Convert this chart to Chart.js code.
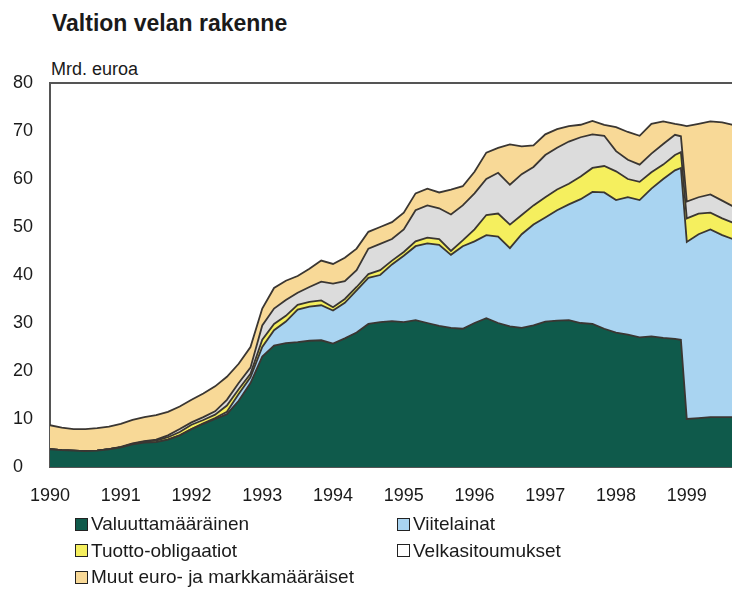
<!DOCTYPE html>
<html lang="fi">
<head>
<meta charset="utf-8">
<title>Valtion velan rakenne</title>
<script src="https://cdn.jsdelivr.net/npm/chart.js@4.4.1/dist/chart.umd.min.js"></script>
<style>
  html, body { margin: 0; padding: 0; background: #fff; overflow: hidden; }
  body { width: 732px; height: 589px; position: relative; font-family: 'Liberation Sans', Arial, Helvetica, sans-serif; color: #1a1a1a; }
  #chart { position: absolute; left: 0; top: 0; }
  .title { position: absolute; left: 52px; top: 12px; font-size: 23px; font-weight: bold; line-height: 23px; white-space: nowrap; }
  .unit { position: absolute; left: 51px; top: 60px; font-size: 18px; line-height: 18px; white-space: nowrap; }
  .legend { position: absolute; left: 75px; top: 511px; display: grid; grid-template-columns: 322px auto; font-size: 19px; }
  .legend-item { display: flex; align-items: center; height: 26.5px; white-space: nowrap; }
  .legend-box { width: 11px; height: 11px; border: 1px solid #222; margin-right: 3px; }
</style>
</head>
<body>
<div class="title">Valtion velan rakenne</div>
<div class="unit">Mrd. euroa</div>
<canvas id="chart" width="800" height="589"></canvas>
<div class="legend" id="legend"></div>
<script>
// ── Data (mrd. euroa) ────────────────────────────────────────────
const months = [
  '1990-01','1990-03','1990-05','1990-07','1990-09','1990-11',
  '1991-01','1991-03','1991-05','1991-07','1991-09','1991-11',
  '1992-01','1992-03','1992-05','1992-07','1992-09','1992-11',
  '1993-01','1993-03','1993-05','1993-07','1993-09','1993-11',
  '1994-01','1994-03','1994-05','1994-07','1994-09','1994-11',
  '1995-01','1995-03','1995-05','1995-07','1995-09','1995-11',
  '1996-01','1996-03','1996-05','1996-07','1996-09','1996-11',
  '1997-01','1997-03','1997-05','1997-07','1997-09','1997-11',
  '1998-01','1998-03','1998-05','1998-07','1998-09','1998-11','1998-12',
  '1999-01','1999-03','1999-05','1999-07','1999-09'
];

const valuutta = [
  3.7, 3.5, 3.4, 3.3, 3.4, 3.7,
  4.1, 4.7, 5.1, 5.2, 5.7, 6.6,
  7.9, 9.0, 10.0, 11.0, 13.8, 17.5,
  23.0, 25.3, 25.8, 26.0, 26.3, 26.4,
  25.7, 26.8, 28.0, 29.8, 30.2, 30.4,
  30.2, 30.6, 30.0, 29.4, 29.0, 28.8,
  30.0, 31.0, 30.0, 29.3, 29.0, 29.5,
  30.3, 30.5, 30.6, 30.0, 29.8, 28.8,
  28.0, 27.6, 27.0, 27.2, 26.9, 26.7, 26.5,
  10.0, 10.2, 10.4, 10.4, 10.4
];
const viite = [
  0, 0, 0, 0, 0, 0,
  0, 0, 0, 0, 0, 0,
  0, 0.1, 0.2, 0.5, 1.4, 1.2,
  2.0, 3.2, 4.5, 6.8, 7.1, 7.3,
  6.9, 7.4, 8.8, 9.6, 9.8, 11.8,
  13.8, 15.4, 16.6, 16.9, 15.2, 17.2,
  17.0, 17.3, 18.0, 16.3, 19.5, 21.0,
  21.7, 23.0, 24.1, 25.8, 27.5, 28.4,
  27.6, 28.6, 28.6, 30.8, 33.1, 35.1, 35.8,
  36.9, 38.3, 39.1, 37.9, 37.0
];
const tuotto = [
  0, 0, 0, 0, 0, 0,
  0, 0.1, 0.2, 0.3, 0.5, 0.7,
  0.9, 0.7, 0.7, 1.3, 1.0, 0.7,
  1.5, 1.3, 1.2, 1.0, 1.0, 1.0,
  0.7, 0.8, 0.7, 0.8, 1.0, 0.8,
  0.8, 1.0, 1.2, 1.2, 0.8, 1.2,
  2.5, 4.2, 4.8, 4.9, 4.0, 4.0,
  4.2, 4.3, 4.3, 4.7, 5.0, 5.5,
  6.0, 3.8, 3.8, 3.4, 3.0, 3.2, 3.3,
  4.9, 4.3, 3.5, 3.5, 3.4
];
const velka = [
  0, 0, 0, 0, 0, 0,
  0.1, 0.1, 0.1, 0.2, 0.4, 0.6,
  0.5, 0.6, 0.7, 1.2, 1.3, 1.3,
  3.0, 3.2, 3.3, 2.5, 3.1, 3.9,
  4.9, 3.7, 3.5, 5.3, 5.5, 4.5,
  4.7, 6.5, 6.7, 6.4, 7.6, 7.3,
  7.5, 7.5, 8.5, 8.3, 8.5, 8.0,
  8.8, 8.7, 8.8, 8.2, 7.0, 6.3,
  4.2, 4.0, 3.6, 3.9, 4.3, 4.2, 3.3,
  3.5, 3.4, 3.8, 3.7, 3.4
];
const muut = [
  5.0, 4.7, 4.5, 4.6, 4.7, 4.7,
  4.8, 4.9, 5.0, 5.1, 4.9, 4.7,
  4.7, 4.9, 5.2, 4.8, 4.0, 4.3,
  3.5, 4.3, 4.0, 3.5, 3.8, 4.4,
  4.1, 4.9, 4.5, 3.5, 3.5, 3.5,
  3.5, 3.5, 3.5, 3.3, 5.2, 4.0,
  4.5, 5.5, 5.2, 8.4, 5.8, 4.5,
  4.3, 3.9, 3.2, 2.6, 2.8, 2.3,
  5.0, 5.8, 6.0, 6.2, 4.7, 2.3, 2.4,
  15.7, 15.3, 15.2, 16.3, 17.0
];

const names = ['Valuuttamääräinen', 'Viitelainat', 'Tuotto-obligaatiot', 'Velkasitoumukset', 'Muut euro- ja markkamääräiset'];
const fills = ['#0f5a4b', '#a9d4f1', '#f5ef5e', '#dcdcdc', '#f8d997'];
const legendFills = ['#0f5a4b', '#a9d4f1', '#f5ef5e', '#ffffff', '#f8d997'];
const years = [1990, 1991, 1992, 1993, 1994, 1995, 1996, 1997, 1998, 1999];
const yTicks = [0, 10, 20, 30, 40, 50, 60, 70, 80];

// ── Chart ─────────────────────────────────────────────────────────
const FONT = "'Liberation Sans', Arial, Helvetica, sans-serif";
const AXIS = '#555555';
const toYear = s => { const [y, m] = s.split('-').map(Number); return y + (m - 1) / 12; };
const points = vals => months.map((m, i) => ({ x: toYear(m), y: vals[i] }));

const topBorder = {
  id: 'topBorder',
  afterDatasetsDraw(chart) {
    const { ctx, chartArea: a } = chart;
    ctx.save();
    ctx.strokeStyle = AXIS;
    ctx.lineWidth = 2;
    ctx.beginPath();
    ctx.moveTo(a.left - 1, a.top);
    ctx.lineTo(a.right, a.top);
    ctx.stroke();
    ctx.restore();
  }
};

const chart = new Chart(document.getElementById('chart'), {
  type: 'line',
  data: {
    datasets: [valuutta, viite, tuotto, velka, muut].map((vals, i) => ({
      label: names[i],
      data: points(vals),
      backgroundColor: fills[i],
      borderColor: '#3a3632',
      borderWidth: 1.8,
      fill: i === 0 ? 'origin' : '-1',
      pointRadius: 0,
      tension: 0
    }))
  },
  options: {
    responsive: false,
    animation: false,
    layout: { padding: { left: 13, top: 83, right: 0, bottom: 82 } },
    plugins: { legend: { display: false }, tooltip: { enabled: false } },
    scales: {
      x: {
        type: 'linear', min: 1990, max: 2000.6,
        grid: { display: false, drawTicks: false },
        border: { display: true, color: AXIS, width: 2 },
        afterBuildTicks: s => { s.ticks = years.map(v => ({ value: v })); },
        afterFit: s => { s.height = 40; },
        ticks: { autoSkip: false, maxRotation: 0, padding: 18, color: '#1a1a1a', font: { family: FONT, size: 18 }, callback: v => String(v) }
      },
      y: {
        stacked: true, min: 0, max: 80,
        grid: { display: false, drawTicks: false },
        border: { display: true, color: AXIS, width: 2 },
        afterBuildTicks: s => { s.ticks = yTicks.map(v => ({ value: v })); },
        afterFit: s => { s.width = 37; },
        ticks: { crossAlign: 'far', padding: 0, color: '#1a1a1a', font: { family: FONT, size: 18 } }
      }
    }
  },
  plugins: [topBorder]
});

document.getElementById('legend').innerHTML = chart.data.datasets.map((d, i) =>
  `<div class="legend-item"><span class="legend-box" style="background:${legendFills[i]}"></span>${d.label}</div>`
).join('');
</script>
</body>
</html>
